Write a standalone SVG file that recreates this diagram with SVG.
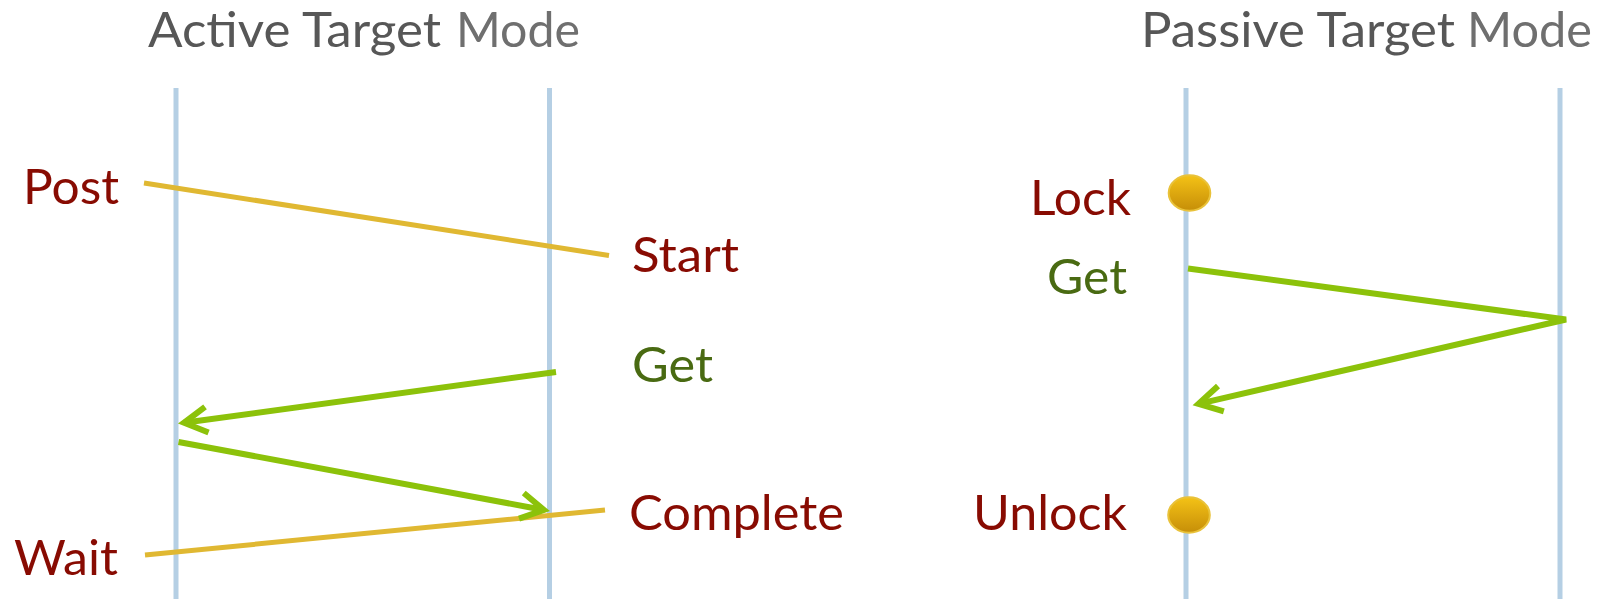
<svg xmlns="http://www.w3.org/2000/svg" width="1597" height="599" viewBox="0 0 1597 599">
  <style>
    text { font-family: Lato, "Liberation Sans", "DejaVu Sans", sans-serif; font-size: 48px; }
    .title { fill: #575757; }
    .title-b { fill: #6f6f6f; }
    .red { fill: #880b02; }
    .green-t { fill: #496a12; }
    .lifeline { stroke: #b5cfe4; stroke-width: 5; fill: none; }
    .sync { stroke: #e0b832; stroke-width: 5; fill: none; }
    .msg { stroke: #8cc20a; stroke-width: 6; fill: none; stroke-linejoin: miter; stroke-miterlimit: 4; }
  </style>
  <defs>
    <marker id="open-arrow" markerUnits="userSpaceOnUse" viewBox="-30 -20 40 40" refX="0" refY="0" markerWidth="40" markerHeight="40" orient="auto">
      <path d="M -23 -13 L 0 0 L -23 13" fill="none" stroke="#8cc20a" stroke-width="6" stroke-linejoin="miter"/>
    </marker>
    <linearGradient id="lock-fill" x1="0" y1="0" x2="0" y2="1">
      <stop offset="0" stop-color="#f4c216"/>
      <stop offset="1" stop-color="#c68e08"/>
    </linearGradient>
  </defs>

  <!-- mode headings -->
  <g id="title-active">
    <text class="title" x="148" y="46.5" textLength="293" lengthAdjust="spacingAndGlyphs">Active Target</text>
    <text class="title-b" x="456" y="46.5" textLength="124" lengthAdjust="spacingAndGlyphs">Mode</text>
  </g>
  <g id="title-passive">
    <text class="title" x="1141" y="46.5" textLength="314" lengthAdjust="spacingAndGlyphs">Passive Target</text>
    <text class="title-b" x="1467" y="46.5" textLength="125" lengthAdjust="spacingAndGlyphs">Mode</text>
  </g>

  <!-- process lifelines -->
  <g id="lifeline-active-origin"><line class="lifeline" x1="176" y1="88" x2="176" y2="599"/></g>
  <g id="lifeline-active-target"><line class="lifeline" x1="549.5" y1="88" x2="549.5" y2="599"/></g>
  <g id="lifeline-passive-origin"><line class="lifeline" x1="1186" y1="88" x2="1186" y2="599"/></g>
  <g id="lifeline-passive-target"><line class="lifeline" x1="1560" y1="88" x2="1560" y2="599"/></g>

  <!-- messages -->
  <g id="connectors">
    <line class="sync" x1="144" y1="183" x2="609" y2="255.5"/>
    <line class="sync" x1="145" y1="555" x2="605" y2="510"/>
    <line class="msg" x1="556" y1="372" x2="184" y2="422.8" marker-end="url(#open-arrow)"/>
    <line class="msg" x1="178.5" y1="442" x2="544" y2="510" marker-end="url(#open-arrow)"/>
    <polyline class="msg" points="1188,268.5 1566,319.5 1198.5,403.8" marker-end="url(#open-arrow)"/>
  </g>

  <!-- active target labels -->
  <g id="label-post"><text class="red" x="23" y="204" textLength="96" lengthAdjust="spacingAndGlyphs">Post</text></g>
  <g id="label-start"><text class="red" x="632" y="272" textLength="107" lengthAdjust="spacingAndGlyphs">Start</text></g>
  <g id="label-get-active"><text class="green-t" x="632" y="382" textLength="81" lengthAdjust="spacingAndGlyphs">Get</text></g>
  <g id="label-complete"><text class="red" x="629" y="530" textLength="215" lengthAdjust="spacingAndGlyphs">Complete</text></g>
  <g id="label-wait"><text class="red" x="14" y="575" textLength="104" lengthAdjust="spacingAndGlyphs">Wait</text></g>

  <!-- passive target labels and lock points -->
  <g id="lock">
    <text class="red" x="1030" y="214.5" textLength="101" lengthAdjust="spacingAndGlyphs">Lock</text>
    <ellipse cx="1189.5" cy="193" rx="20.8" ry="17.8" fill="url(#lock-fill)" stroke="#e9c23a" stroke-width="2"/>
  </g>
  <g id="label-get-passive"><text class="green-t" x="1047" y="294" textLength="80" lengthAdjust="spacingAndGlyphs">Get</text></g>
  <g id="unlock">
    <text class="red" x="973" y="530" textLength="154" lengthAdjust="spacingAndGlyphs">Unlock</text>
    <ellipse cx="1189" cy="515" rx="20.8" ry="17.8" fill="url(#lock-fill)" stroke="#e9c23a" stroke-width="2"/>
  </g>
</svg>
